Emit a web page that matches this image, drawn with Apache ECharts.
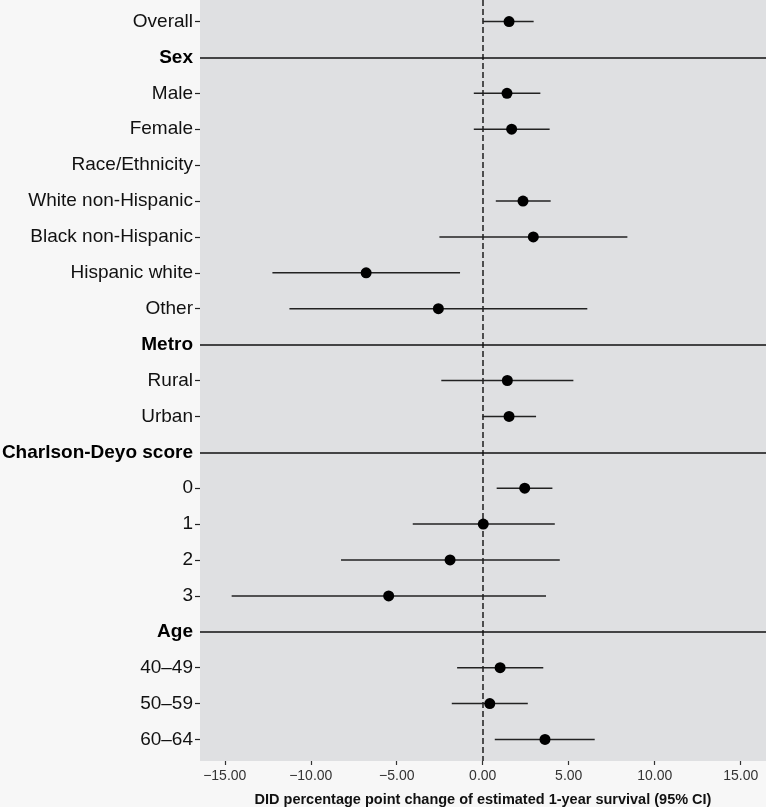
<!DOCTYPE html>
<html>
<head>
<meta charset="utf-8">
<script src="https://cdn.jsdelivr.net/npm/echarts@6/dist/echarts.min.js"></script>
<style>
html,body{margin:0;padding:0;background:#F7F7F7;overflow:hidden;}
#chart{width:766px;height:807px;}
</style>
</head>
<body>
<div id="chart"></div>
<script>
var categories = ['Overall','Sex','Male','Female','Race/Ethnicity','White non-Hispanic','Black non-Hispanic','Hispanic white','Other','Metro','Rural','Urban','Charlson-Deyo score','0','1','2','3','Age','40–49','50–59','60–64'];
var headers = ['Sex','Metro','Charlson-Deyo score','Age'];
var estimates = [1.53, null, 1.41, 1.68, null, 2.34, 2.94, -6.78, -2.58, null, 1.43, 1.53, null, 2.44, 0.03, -1.90, -5.47, null, 1.01, 0.41, 3.62];
var lower = [0.00, null, -0.52, -0.52, null, 0.76, -2.52, -12.23, -11.24, null, -2.41, -0.02, null, 0.81, -4.07, -8.24, -14.60, null, -1.49, -1.80, 0.70];
var upper = [2.96, null, 3.35, 3.89, null, 3.95, 8.41, -1.32, 6.08, null, 5.27, 3.10, null, 4.05, 4.19, 4.48, 3.68, null, 3.52, 2.62, 6.51];
var xTicks = [-15, -10, -5, 0, 5, 10, 15];
var xTitle = 'DID percentage point change of estimated 1-year survival (95% CI)';

var FONT = "'Liberation Sans', Arial, Helvetica, sans-serif";
var idx = categories.map(function (c, i) { return i; });
var tickIdx = idx.filter(function (i) { return headers.indexOf(categories[i]) < 0; });
var headerIdx = idx.filter(function (i) { return headers.indexOf(categories[i]) >= 0; });

var ciData = [], ptData = [];
categories.forEach(function (c, i) {
  if (estimates[i] !== null) {
    ciData.push([lower[i], upper[i], i]);
    ptData.push([estimates[i], i]);
  }
});

var el = document.getElementById('chart');
var chart = echarts.init(el, null, {renderer: 'canvas'});
chart.setOption({
  backgroundColor: '#F7F7F7',
  animation: false,
  grid: {left: 200, right: 0, top: 0, bottom: 46, show: true, backgroundColor: '#DFE0E2', borderWidth: 0, containLabel: false, outerBoundsMode: 'none'},
  xAxis: {
    type: 'value', min: -16.44, max: 16.47,
    splitLine: {show: false},
    axisLine: {show: false, onZero: false},
    axisTick: {show: true, length: 4, customValues: xTicks, lineStyle: {color: '#333', width: 1.2}},
    axisLabel: {
      customValues: xTicks, margin: 8, color: '#333', fontSize: 14, fontFamily: FONT,
      formatter: function (v) { return v.toFixed(2).replace('-', '\u2212'); }
    },
    name: xTitle, nameLocation: 'middle', nameGap: 31,
    nameTextStyle: {fontSize: 14.5, fontWeight: 'bold', color: '#111', fontFamily: FONT}
  },
  yAxis: {
    type: 'value', min: -0.6, max: 20.6, inverse: true,
    splitLine: {show: false},
    axisLine: {show: false, onZero: false},
    axisTick: {show: true, length: 5, customValues: tickIdx, lineStyle: {color: '#222', width: 1.2}},
    axisLabel: {
      customValues: idx, margin: 7, color: '#111', fontSize: 19, fontFamily: FONT,
      formatter: function (v) {
        var n = categories[Math.round(v)];
        return headers.indexOf(n) >= 0 ? '{b|' + n + '}' : n;
      },
      rich: {b: {fontWeight: 'bold', fontSize: 19, color: '#000', fontFamily: FONT}}
    }
  },
  series: [
    {
      type: 'custom',
      data: ciData,
      encode: {x: [0, 1], y: 2},
      renderItem: function (params, api) {
        var a = api.coord([api.value(0), api.value(2)]);
        var b = api.coord([api.value(1), api.value(2)]);
        return {type: 'line', shape: {x1: a[0], y1: a[1], x2: b[0], y2: b[1]}, style: {stroke: '#222', lineWidth: 1.5}};
      },
      markLine: {
        silent: true, symbol: 'none', label: {show: false},
        lineStyle: {color: '#111', width: 1.5, type: 'solid'},
        data: headerIdx.map(function (i) { return {yAxis: i}; })
      },
      z: 2
    },
    {
      type: 'scatter',
      data: ptData,
      symbol: 'circle', symbolSize: 11,
      itemStyle: {color: '#000', opacity: 1},
      markLine: {
        silent: true, symbol: 'none', label: {show: false},
        lineStyle: {color: '#2a2a2a', width: 1.6, type: [6, 3]},
        data: [{xAxis: 0}],
        z: 1
      },
      z: 4
    }
  ]
});
</script>
</body>
</html>
